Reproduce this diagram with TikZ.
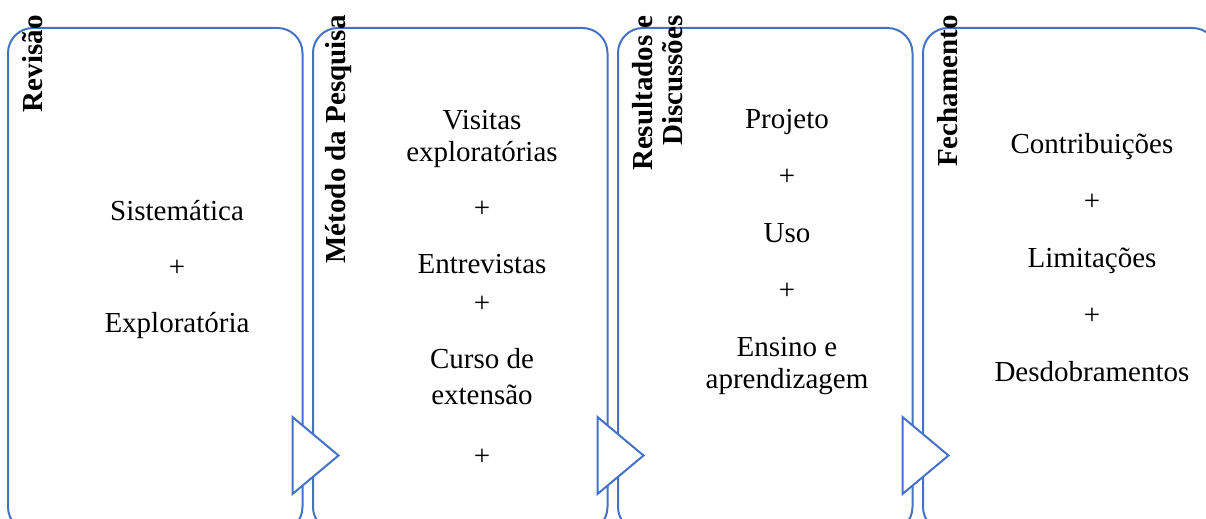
\documentclass[tikz,border=0pt]{standalone}
\usepackage{fontspec}
\setmainfont{Liberation Serif}
\usetikzlibrary{positioning}
\definecolor{panelblue}{RGB}{68,114,196}

\tikzset{
  panel/.style={draw=panelblue, line width=1pt, rounded corners=12.5pt,
    minimum width=147.25pt, minimum height=252pt, inner sep=0pt, outer sep=0pt},
  phase/.style={rotate=90, anchor=base east, inner sep=0pt, align=right,
    font=\fontsize{14.5}{15}\selectfont\bfseries},
  items/.style={align=center, inner sep=0pt,
    font=\fontsize{14.5}{16}\selectfont},
  tri/.style={draw=panelblue, line width=1pt, fill=white}
}

\begin{document}
\begin{tikzpicture}[x=0.5pt, y=-0.5pt, node distance=5.25pt]
\clip (0,0) rectangle (1206,519);

% the four phases
\node[panel, anchor=north west] (p1) at (8,28) {};
\node[panel, right=of p1] (p2) {};
\node[panel, right=of p2] (p3) {};
\node[panel, right=of p3] (p4) {};

% arrows between the phases
\foreach \p in {p1,p2,p3}
  \draw[tri] ([xshift=-5pt,yshift=-68.5pt]\p.east) -- ++(0,77) -- ++(46,-38.5) -- cycle;

% titles
\node[phase] (t1) at ([xshift=17pt,yshift=6.5pt]p1.north west) {Revisão};
\node[phase] (t2) at ([xshift=16pt,yshift=6.5pt]p2.north west) {Método da Pesquisa};
\node[phase] (t3) at ([xshift=32pt,yshift=6.5pt]p3.north west) {Resultados e\\Discussões};
\node[phase] (t4) at ([xshift=17pt,yshift=6.5pt]p4.north west) {Fechamento};

% contents
\node[items] (c1) at ([xshift=84.5pt,yshift=-121pt]p1.north west)
  {Sistemática\\[12pt]+\\[12pt]Exploratória};
\node[items] (c2) at ([xshift=84.5pt,yshift=-130pt]p2.north west)
  {Visitas\\exploratórias\\[12pt]+\\[12pt]Entrevistas\\[3.5pt]+\\[12pt]Curso de\\[2pt]extensão\\[14.5pt]+};
\node[items] (c3) at ([xshift=84.5pt,yshift=-112pt]p3.north west)
  {Projeto\\[12.5pt]+\\[12.5pt]Uso\\[12.5pt]+\\[12.5pt]Ensino e\\aprendizagem};
\node[items] (c4) at ([xshift=84.5pt,yshift=-115pt]p4.north west)
  {Contribuições\\[12.5pt]+\\[12.5pt]Limitações\\[12.5pt]+\\[12.5pt]Desdobramentos};
\end{tikzpicture}
\end{document}
